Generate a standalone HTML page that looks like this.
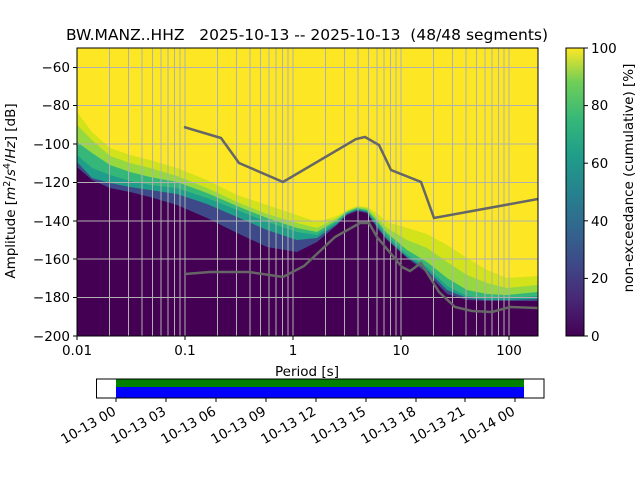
<!DOCTYPE html>
<html><head><meta charset="utf-8"><style>
html,body{margin:0;padding:0;background:#fff;}
svg{display:block;font-family:"DejaVu Sans","Liberation Sans",sans-serif;}
</style></head><body>
<svg width="640" height="480" viewBox="0 0 640 480" xmlns="http://www.w3.org/2000/svg">
<defs>
<clipPath id="c"><rect x="77" y="48" width="461" height="288"/></clipPath>
<linearGradient id="vir" x1="0" y1="1" x2="0" y2="0">
<stop offset="0" stop-color="#440154"/><stop offset="0.13" stop-color="#482878"/><stop offset="0.25" stop-color="#3e4989"/><stop offset="0.38" stop-color="#31688e"/><stop offset="0.5" stop-color="#26828e"/><stop offset="0.63" stop-color="#1f9e89"/><stop offset="0.75" stop-color="#35b779"/><stop offset="0.88" stop-color="#6ece58"/><stop offset="1" stop-color="#fde725"/>
</linearGradient>
</defs>
<text x="307" y="40" font-size="15.5" text-anchor="middle" xml:space="preserve" style="white-space:pre">BW.MANZ..HHZ   2025-10-13 -- 2025-10-13  (48/48 segments)</text>
<g clip-path="url(#c)">
<rect x="77" y="48" width="461" height="288" fill="#fde725"/>
<polygon fill="#d2e21b" points="77,112 92,132 110,148 130,155 150,160 177,168 207,180 237,195 267,205 297,215 317,222 337,216 347,210 357,206 367,207 377,213 387,222 407,228 427,234 447,245 467,258 487,270 507,278 538,276 538,336 77,336"/>
<polygon fill="#95d840" points="77,125 92,140 110,156 130,163 150,168 177,176 207,188 237,202 267,214 297,223 317,228 337,218 347,211 357,207 367,208 377,218 387,228 407,240 427,248 447,262 467,275 487,283 507,288 538,285 538,336 77,336"/>
<polygon fill="#35b779" points="77,142 92,153 110,165 130,172 150,177 177,182 207,193 237,206 267,218 297,228 317,232 337,220 347,212 357,208 367,210 377,221 387,233 407,250 427,262 447,278 467,290 487,294 507,295 538,292 538,336 77,336"/>
<polygon fill="#1f9e89" points="77,155 92,168 110,175 130,181 150,185 177,188 207,198 237,210 267,222 297,232 317,235 337,222 347,213 357,209 367,211 377,223 387,236 407,255 427,267 447,286 467,296 487,298 507,298 538,296 538,336 77,336"/>
<polygon fill="#3e4989" points="77,162 92,178 110,183 130,187 150,190 177,194 207,204 237,217 267,230 297,240 317,238 337,224 347,214 357,210 367,212 377,226 387,239 407,257 427,270 447,290 467,298 487,300 507,300 538,299 538,336 77,336"/>
<polygon fill="#440154" points="77,167 92,180 110,188 130,192 150,197 177,205 207,218 237,233 267,247 297,252 317,242 337,225 347,215 357,211 367,213 377,228 387,240 407,258 427,273 447,294 467,300 487,301 507,301 538,301 538,336 77,336"/>
</g>
<g stroke="#b0b0b0" stroke-width="1">
<line x1="109.5" y1="48" x2="109.5" y2="336"/><line x1="128.5" y1="48" x2="128.5" y2="336"/><line x1="142" y1="48" x2="142" y2="336"/><line x1="152.5" y1="48" x2="152.5" y2="336"/><line x1="161" y1="48" x2="161" y2="336"/><line x1="168" y1="48" x2="168" y2="336"/><line x1="174.5" y1="48" x2="174.5" y2="336"/><line x1="180" y1="48" x2="180" y2="336"/><line x1="185" y1="48" x2="185" y2="336"/>
<line x1="217.5" y1="48" x2="217.5" y2="336"/><line x1="236.5" y1="48" x2="236.5" y2="336"/><line x1="250" y1="48" x2="250" y2="336"/><line x1="260.5" y1="48" x2="260.5" y2="336"/><line x1="269" y1="48" x2="269" y2="336"/><line x1="276" y1="48" x2="276" y2="336"/><line x1="282.5" y1="48" x2="282.5" y2="336"/><line x1="288" y1="48" x2="288" y2="336"/><line x1="293" y1="48" x2="293" y2="336"/>
<line x1="325.5" y1="48" x2="325.5" y2="336"/><line x1="344.5" y1="48" x2="344.5" y2="336"/><line x1="358" y1="48" x2="358" y2="336"/><line x1="368.5" y1="48" x2="368.5" y2="336"/><line x1="377" y1="48" x2="377" y2="336"/><line x1="384" y1="48" x2="384" y2="336"/><line x1="390.5" y1="48" x2="390.5" y2="336"/><line x1="396" y1="48" x2="396" y2="336"/><line x1="401" y1="48" x2="401" y2="336"/>
<line x1="433.5" y1="48" x2="433.5" y2="336"/><line x1="452.5" y1="48" x2="452.5" y2="336"/><line x1="466" y1="48" x2="466" y2="336"/><line x1="476.5" y1="48" x2="476.5" y2="336"/><line x1="485" y1="48" x2="485" y2="336"/><line x1="492" y1="48" x2="492" y2="336"/><line x1="498.5" y1="48" x2="498.5" y2="336"/><line x1="504" y1="48" x2="504" y2="336"/><line x1="509" y1="48" x2="509" y2="336"/>
<line x1="77" y1="67.5" x2="538" y2="67.5"/><line x1="77" y1="105.5" x2="538" y2="105.5"/><line x1="77" y1="144" x2="538" y2="144"/><line x1="77" y1="182.5" x2="538" y2="182.5"/><line x1="77" y1="221" x2="538" y2="221"/><line x1="77" y1="259" x2="538" y2="259"/><line x1="77" y1="297.5" x2="538" y2="297.5"/>
</g>
<g fill="none" stroke="#666" stroke-width="2.5" clip-path="url(#c)">
<polyline points="184,127 221,138 239,163 283,182 356,139 365,137 379,145 391,170 421,182 434,218 538,199"/>
<polyline points="185,274 210,272 249,272 283,277 304,266 335,237 360,223 369,223 377,237 402,267 410,271 421,263 439,292 455,307 472,311 492,312 510,307 538,308"/>
</g>
<rect x="77" y="48" width="461" height="288" fill="none" stroke="#000" stroke-width="1"/>
<g stroke="#000" stroke-width="1">
<line x1="77" y1="336" x2="77" y2="340"/><line x1="185" y1="336" x2="185" y2="340"/><line x1="293" y1="336" x2="293" y2="340"/><line x1="401" y1="336" x2="401" y2="340"/><line x1="509" y1="336" x2="509" y2="340"/>
<line x1="73" y1="67.5" x2="77" y2="67.5"/><line x1="73" y1="105.5" x2="77" y2="105.5"/><line x1="73" y1="144" x2="77" y2="144"/><line x1="73" y1="182.5" x2="77" y2="182.5"/><line x1="73" y1="221" x2="77" y2="221"/><line x1="73" y1="259" x2="77" y2="259"/><line x1="73" y1="297.5" x2="77" y2="297.5"/><line x1="73" y1="336" x2="77" y2="336"/>
</g>
<g font-size="13.5" text-anchor="middle">
<text x="77" y="355">0.01</text><text x="185" y="355">0.1</text><text x="293" y="355">1</text><text x="401" y="355">10</text><text x="509" y="355">100</text>
<text x="307" y="376">Period [s]</text>
</g>
<g font-size="13.5" text-anchor="end">
<text x="70" y="72">−60</text><text x="70" y="110">−80</text><text x="70" y="149">−100</text><text x="70" y="187">−120</text><text x="70" y="226">−140</text><text x="70" y="264">−160</text><text x="70" y="302">−180</text><text x="70" y="341">−200</text>
</g>
<text transform="translate(15,191) rotate(-90)" font-size="13.5" text-anchor="middle">Amplitude [<tspan font-style="italic">m</tspan><tspan font-size="9.5" dy="-5">2</tspan><tspan dy="5">/</tspan><tspan font-style="italic">s</tspan><tspan font-size="9.5" dy="-5">4</tspan><tspan dy="5">/</tspan><tspan font-style="italic">Hz</tspan>] [dB]</text>
<rect x="566" y="48" width="18" height="288" fill="url(#vir)" stroke="#000" stroke-width="1"/>
<g stroke="#000"><line x1="584" y1="336" x2="588" y2="336"/><line x1="584" y1="278.4" x2="588" y2="278.4"/><line x1="584" y1="220.8" x2="588" y2="220.8"/><line x1="584" y1="163.2" x2="588" y2="163.2"/><line x1="584" y1="105.6" x2="588" y2="105.6"/><line x1="584" y1="48" x2="588" y2="48"/></g>
<g font-size="13.5"><text x="591" y="341">0</text><text x="591" y="283">20</text><text x="591" y="226">40</text><text x="591" y="168">60</text><text x="591" y="110">80</text><text x="591" y="53">100</text></g>
<text transform="translate(633,178) rotate(-90)" font-size="13.5" text-anchor="middle">non-exceedance (cumulative) [%]</text>
<rect x="116" y="379" width="408" height="8" fill="#008000"/>
<rect x="116" y="387" width="408" height="11" fill="#0000ff"/>
<rect x="96.5" y="379" width="447.5" height="19" fill="none" stroke="#000" stroke-width="1"/>
<g stroke="#000"><line x1="116" y1="398" x2="116" y2="402"/><line x1="166" y1="398" x2="166" y2="402"/><line x1="216" y1="398" x2="216" y2="402"/><line x1="266" y1="398" x2="266" y2="402"/><line x1="316" y1="398" x2="316" y2="402"/><line x1="366" y1="398" x2="366" y2="402"/><line x1="416" y1="398" x2="416" y2="402"/><line x1="465" y1="398" x2="465" y2="402"/><line x1="515" y1="398" x2="515" y2="402"/></g>
<g font-size="13.5" text-anchor="end">
<text transform="translate(117,414) rotate(-30)">10-13 00</text>
<text transform="translate(167,414) rotate(-30)">10-13 03</text>
<text transform="translate(217,414) rotate(-30)">10-13 06</text>
<text transform="translate(267,414) rotate(-30)">10-13 09</text>
<text transform="translate(317,414) rotate(-30)">10-13 12</text>
<text transform="translate(367,414) rotate(-30)">10-13 15</text>
<text transform="translate(417,414) rotate(-30)">10-13 18</text>
<text transform="translate(466,414) rotate(-30)">10-13 21</text>
<text transform="translate(516,414) rotate(-30)">10-14 00</text>
</g>
</svg>
</body></html>
